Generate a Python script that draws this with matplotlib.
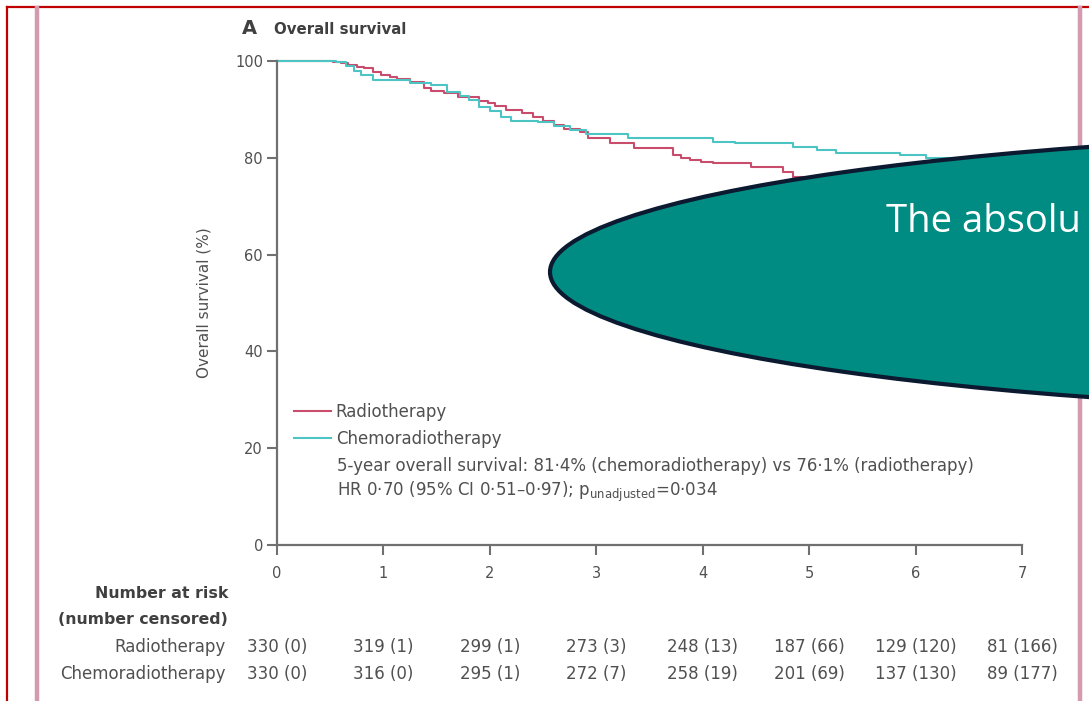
import matplotlib
matplotlib.use("Agg")
import matplotlib.pyplot as plt
from matplotlib.lines import Line2D
from matplotlib.patches import Ellipse
from matplotlib.transforms import blended_transform_factory

# Kaplan-Meier steps (years, % alive)
rt_years = [0, 0.53, 0.6, 0.67, 0.75, 0.82, 0.9, 0.98, 1.06, 1.13, 1.25, 1.38, 1.45,
            1.57, 1.7, 1.9, 1.98, 2.05, 2.15, 2.3, 2.41, 2.5, 2.6, 2.7, 2.85, 2.92,
            3.13, 3.35, 3.72, 3.8, 3.88, 3.98, 4.1, 4.45, 4.75, 4.85, 5.2, 5.6, 6.0,
            6.4, 7.0]
rt_surv = [100, 99.8, 99.5, 99.2, 98.8, 98.5, 97.8, 97.1, 96.6, 96.3, 95.6, 94.4, 93.8,
           93.4, 92.6, 91.8, 91.3, 90.6, 89.9, 89.3, 88.4, 87.6, 86.8, 86.0, 85.4, 84.1,
           83.0, 82.0, 80.6, 80.0, 79.5, 79.1, 78.9, 78.1, 77.1, 76.1, 75.3, 74.5, 73.6,
           72.8, 72.0]

crt_years = [0, 0.55, 0.65, 0.72, 0.79, 0.9, 1.25, 1.45, 1.6, 1.72, 1.8, 1.9, 2.0, 2.1,
             2.2, 2.45, 2.6, 2.75, 2.9, 3.3, 4.1, 4.3, 4.85, 5.07, 5.25, 5.85, 6.1, 6.6,
             7.0]
crt_surv = [100, 99.8, 99.0, 98.0, 97.1, 96.0, 95.4, 95.0, 93.6, 92.8, 92.0, 90.5, 89.6,
            88.4, 87.6, 87.4, 86.5, 85.7, 84.9, 84.0, 83.3, 83.0, 82.2, 81.6, 81.0, 80.6,
            80.0, 79.2, 78.6]

year_ticks = [0, 1, 2, 3, 4, 5, 6, 7]
surv_ticks = [0, 20, 40, 60, 80, 100]
rt_at_risk = ["330 (0)", "319 (1)", "299 (1)", "273 (3)", "248 (13)", "187 (66)",
              "129 (120)", "81 (166)"]
crt_at_risk = ["330 (0)", "316 (0)", "295 (1)", "272 (7)", "258 (19)", "201 (69)",
               "137 (130)", "89 (177)"]

W, H = 1089, 701
RT_COLOR = "#c94c6c"
CRT_COLOR = "#4cc4c4"
TXT = "#505050"
AXC = "#707070"
FS = 12


def fx(px):
    return px / W


def fy(py):
    return 1 - py / H


fig = plt.figure(figsize=(W / 100, H / 100), dpi=100)
fig.patch.set_facecolor("white")

ax = fig.add_axes([fx(277), fy(545), fx(1022) - fx(277), fy(61) - fy(545)])
rt_line, = ax.plot(rt_years, rt_surv, drawstyle="steps-post", color=RT_COLOR,
                   lw=1.5, clip_on=False, label="Radiotherapy")
crt_line, = ax.plot(crt_years, crt_surv, drawstyle="steps-post", color=CRT_COLOR,
                    lw=1.5, clip_on=False, label="Chemoradiotherapy")

ax.set_xlim(0, 7)
ax.set_ylim(0, 100)
ax.set_xticks(year_ticks)
ax.set_yticks(surv_ticks)
for s in ("top", "right"):
    ax.spines[s].set_visible(False)
for s in ("left", "bottom"):
    ax.spines[s].set_color(AXC)
    ax.spines[s].set_linewidth(1.6)
ax.tick_params(axis="both", colors=AXC, width=1.5, length=7, labelsize=10.5,
               labelcolor=TXT)
ax.tick_params(axis="x", pad=8)
ax.tick_params(axis="y", pad=3)
ax.set_ylabel("Overall survival (%)", fontsize=11, color=TXT, labelpad=17)

ax.legend(handles=[rt_line, crt_line], loc="upper left",
          bbox_to_anchor=(fx(294), fy(403)), bbox_transform=fig.transFigure,
          frameon=False, fontsize=FS, handlelength=2.2, handletextpad=0.3,
          labelspacing=0.55, borderpad=0, borderaxespad=0, labelcolor=TXT)

fig.text(fx(337), fy(466), "5-year overall survival: 81·4% (chemoradiotherapy) vs 76·1% (radiotherapy)",
         fontsize=FS, color=TXT, va="center")
fig.text(fx(337), fy(492), r"HR 0·70 (95% CI 0·51–0·97); p$_{\mathregular{unadjusted}}$=0·034",
         fontsize=FS, color=TXT, va="center")

# title
fig.text(fx(242), fy(29), "A", fontsize=14, weight="bold", color="#404040", va="center")
fig.text(fx(274), fy(29), "Overall survival", fontsize=10.8, weight="bold",
         color="#404040", va="center")

# number at risk table
fig.text(fx(228), fy(593), "Number at risk", fontsize=11.3, weight="bold",
         color="#404040", ha="right", va="center")
fig.text(fx(228), fy(620), "(number censored)", fontsize=11.3, weight="bold",
         color="#404040", ha="right", va="center")
fig.text(fx(226), fy(647), "Radiotherapy", fontsize=FS, color=TXT, ha="right",
         va="center")
fig.text(fx(226), fy(674), "Chemoradiotherapy", fontsize=FS, color=TXT, ha="right",
         va="center")
row_tr = blended_transform_factory(ax.transData, fig.transFigure)
for t, a, b in zip(year_ticks, rt_at_risk, crt_at_risk):
    ax.text(t, fy(647), a, transform=row_tr, fontsize=FS, color=TXT, ha="center",
            va="center", clip_on=False)
    ax.text(t, fy(674), b, transform=row_tr, fontsize=FS, color=TXT, ha="center",
            va="center", clip_on=False)

# slide frame
fig.add_artist(Line2D([fx(7), 1], [fy(7), fy(7)], transform=fig.transFigure,
                      color="#c00000", lw=1.6))
fig.add_artist(Line2D([fx(7), fx(7)], [fy(7), 0], transform=fig.transFigure,
                      color="#c00000", lw=1.6))
fig.add_artist(Line2D([fx(37), fx(37)], [fy(8), 0], transform=fig.transFigure,
                      color="#d49bb0", lw=3.2))
fig.add_artist(Line2D([fx(1080), fx(1080)], [fy(8), 0], transform=fig.transFigure,
                      color="#d49bb0", lw=3.2))

# callout ellipse
fig.add_artist(Ellipse((fx(1550), fy(272)), width=2000 / W, height=282 / H,
                       transform=fig.transFigure, facecolor="#008c82",
                       edgecolor="#0b1a30", lw=3, zorder=10))
fig.text(fx(886), fy(232), "The absolu", fontsize=27.5, color="white",
         family="Open Sans", va="baseline", zorder=11)

fig.savefig("out.png", dpi=100)
